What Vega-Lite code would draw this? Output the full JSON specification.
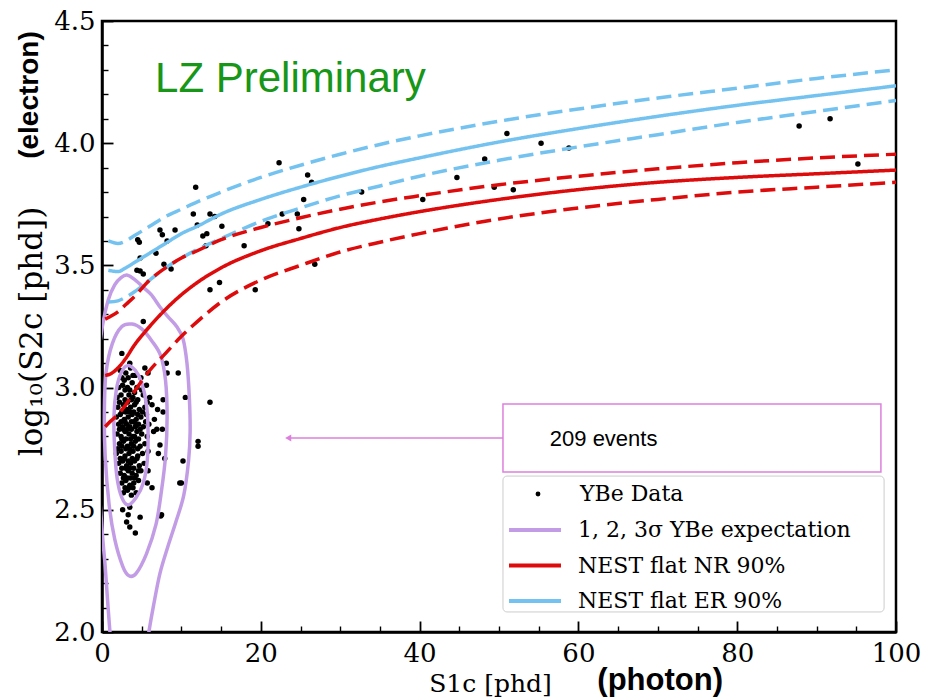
{
"$schema": "https://vega.github.io/schema/vega-lite/v6.json",
"width": 794, "height": 611,
"autosize": {"type": "none"},
"padding": {"left": 102, "top": 21, "right": 29, "bottom": 66},
"background": "white",
"config": {
  "view": {"stroke": "black", "strokeWidth": 2.5},
  "axis": {"grid": false, "labelFont": "DejaVu Serif", "labelFontSize": 26, "labelColor": "black", "titleFont": "DejaVu Serif", "titleFontSize": 25, "titleFontWeight": "normal", "titleColor": "black", "domainColor": "black", "domainWidth": 2.5, "tickColor": "black", "tickOpacity": 1}
},
"datasets": {
  "pts": [
    {"x":11.8,"y":3.82},{"x":11.5,"y":3.71},{"x":14.2,"y":3.70},{"x":13.6,"y":3.71},{"x":15.1,"y":3.66},{"x":13.2,"y":3.63},{"x":12.7,"y":3.62},{"x":13.1,"y":3.58},{"x":12.0,"y":3.665},{"x":7.3,"y":3.645},{"x":7.6,"y":3.625},{"x":8.2,"y":3.60},{"x":9.2,"y":3.645},{"x":4.5,"y":3.605},{"x":4.7,"y":3.595},{"x":4.8,"y":3.53},{"x":6.8,"y":3.55},{"x":4.4,"y":3.48},{"x":4.8,"y":3.477},{"x":5.2,"y":3.465},{"x":7.8,"y":3.505},{"x":8.7,"y":3.485},{"x":17.9,"y":3.58},{"x":13.6,"y":3.40},{"x":14.8,"y":3.43},{"x":19.3,"y":3.40},{"x":20.9,"y":3.67},{"x":22.3,"y":3.92},{"x":25.9,"y":3.87},{"x":26.4,"y":3.84},{"x":25.4,"y":3.77},{"x":22.7,"y":3.71},{"x":24.6,"y":3.71},{"x":24.8,"y":3.65},{"x":26.8,"y":3.505},{"x":32.7,"y":3.80},{"x":51.0,"y":4.04},{"x":55.3,"y":4.0},{"x":58.8,"y":3.98},{"x":48.2,"y":3.935},{"x":44.7,"y":3.86},{"x":40.4,"y":3.77},{"x":49.4,"y":3.82},{"x":51.8,"y":3.81},{"x":87.8,"y":4.07},{"x":91.7,"y":4.10},{"x":95.2,"y":3.915},
    {"x":2.5,"y":3.14},{"x":3.5,"y":3.10},{"x":5.4,"y":3.08},{"x":8.1,"y":3.10},{"x":9.6,"y":3.06},{"x":8.2,"y":3.06},{"x":10.5,"y":2.96},{"x":5.8,"y":3.06},{"x":7.7,"y":2.95},{"x":7.7,"y":2.90},{"x":7.0,"y":2.91},{"x":6.9,"y":2.83},{"x":7.6,"y":2.83},{"x":7.9,"y":2.71},{"x":7.1,"y":2.73},{"x":7.3,"y":2.765},{"x":5.8,"y":2.66},{"x":5.7,"y":2.61},{"x":6.3,"y":2.59},{"x":10.0,"y":2.61},{"x":10.2,"y":2.70},{"x":13.6,"y":2.94},{"x":12.1,"y":2.78},{"x":12.1,"y":2.76},{"x":5.2,"y":3.27},{"x":9.8,"y":2.61},{"x":7.5,"y":2.48},
    {"x":2.6,"y":2.50},{"x":3.5,"y":2.51},{"x":3.3,"y":2.48},{"x":3.1,"y":2.45},{"x":4.2,"y":2.405},{"x":3.5,"y":2.43},{"x":4.8,"y":2.47},{"x":7.4,"y":2.475},
    {"x":2.3,"y":3.07},{"x":3.0,"y":3.06},{"x":3.6,"y":3.08},{"x":4.2,"y":3.05},{"x":4.9,"y":3.04},{"x":2.8,"y":3.03},
    {"x":2.1,"y":3.0},{"x":2.6,"y":3.01},{"x":3.2,"y":3.0},{"x":3.8,"y":3.02},{"x":4.4,"y":3.0},{"x":5.0,"y":2.99},{"x":5.6,"y":3.01},
    {"x":1.9,"y":2.96},{"x":2.4,"y":2.97},{"x":2.9,"y":2.95},{"x":3.4,"y":2.97},{"x":3.9,"y":2.96},{"x":4.5,"y":2.95},{"x":5.2,"y":2.97},{"x":6.0,"y":2.96},
    {"x":2.0,"y":2.92},{"x":2.7,"y":2.93},{"x":3.1,"y":2.91},{"x":3.6,"y":2.92},{"x":4.1,"y":2.93},{"x":4.7,"y":2.91},{"x":5.4,"y":2.92},{"x":6.3,"y":2.93},
    {"x":1.8,"y":2.88},{"x":2.3,"y":2.89},{"x":2.8,"y":2.87},{"x":3.3,"y":2.88},{"x":3.8,"y":2.89},{"x":4.3,"y":2.87},{"x":4.9,"y":2.88},{"x":5.6,"y":2.89},{"x":6.6,"y":2.87},
    {"x":2.1,"y":2.85},{"x":2.6,"y":2.84},{"x":3.1,"y":2.85},{"x":3.5,"y":2.84},{"x":4.0,"y":2.86},{"x":4.6,"y":2.85},{"x":5.2,"y":2.84},{"x":5.9,"y":2.85},
    {"x":1.9,"y":2.81},{"x":2.4,"y":2.80},{"x":2.9,"y":2.82},{"x":3.4,"y":2.81},{"x":3.9,"y":2.80},{"x":4.4,"y":2.82},{"x":5.0,"y":2.81},{"x":5.7,"y":2.80},{"x":6.5,"y":2.82},
    {"x":2.2,"y":2.77},{"x":2.7,"y":2.78},{"x":3.2,"y":2.76},{"x":3.7,"y":2.77},{"x":4.2,"y":2.78},{"x":4.8,"y":2.76},{"x":5.4,"y":2.77},
    {"x":1.8,"y":2.73},{"x":2.4,"y":2.74},{"x":2.9,"y":2.72},{"x":3.4,"y":2.73},{"x":3.9,"y":2.74},{"x":4.5,"y":2.72},{"x":5.1,"y":2.73},{"x":5.8,"y":2.74},
    {"x":2.1,"y":2.69},{"x":2.6,"y":2.70},{"x":3.1,"y":2.68},{"x":3.6,"y":2.69},{"x":4.1,"y":2.70},{"x":4.7,"y":2.68},{"x":5.3,"y":2.69},
    {"x":2.3,"y":2.65},{"x":2.8,"y":2.64},{"x":3.3,"y":2.66},{"x":3.8,"y":2.65},{"x":4.3,"y":2.64},{"x":4.9,"y":2.66},
    {"x":2.5,"y":2.61},{"x":3.0,"y":2.62},{"x":3.5,"y":2.60},{"x":4.0,"y":2.61},{"x":4.6,"y":2.62},
    {"x":2.7,"y":2.57},{"x":3.2,"y":2.58},{"x":3.7,"y":2.56},{"x":4.3,"y":2.57},
    {"x":2.5,"y":3.04},{"x":3.3,"y":3.04},{"x":3.9,"y":3.05},
    {"x":2.9,"y":2.99},{"x":3.5,"y":2.99},{"x":4.1,"y":2.98},
    {"x":2.2,"y":2.94},{"x":3.2,"y":2.94},{"x":3.7,"y":2.95},{"x":4.3,"y":2.94},{"x":5.7,"y":2.94},
    {"x":2.5,"y":2.90},{"x":3.0,"y":2.90},{"x":3.5,"y":2.90},{"x":4.0,"y":2.90},{"x":4.5,"y":2.89},{"x":5.1,"y":2.90},
    {"x":2.4,"y":2.86},{"x":2.9,"y":2.86},{"x":3.7,"y":2.86},{"x":4.3,"y":2.85},{"x":5.5,"y":2.86},
    {"x":2.2,"y":2.83},{"x":2.7,"y":2.83},{"x":3.2,"y":2.83},{"x":3.7,"y":2.83},{"x":4.2,"y":2.84},{"x":4.8,"y":2.83},
    {"x":2.5,"y":2.79},{"x":3.0,"y":2.79},{"x":3.6,"y":2.79},{"x":4.1,"y":2.80},{"x":4.6,"y":2.79},
    {"x":2.0,"y":2.75},{"x":2.5,"y":2.76},{"x":3.0,"y":2.75},{"x":3.5,"y":2.75},{"x":4.0,"y":2.76},{"x":4.5,"y":2.75},
    {"x":2.3,"y":2.71},{"x":2.8,"y":2.71},{"x":3.3,"y":2.70},{"x":3.8,"y":2.71},{"x":4.4,"y":2.71},
    {"x":2.5,"y":2.67},{"x":3.0,"y":2.67},{"x":3.5,"y":2.67},{"x":4.0,"y":2.67},{"x":4.6,"y":2.66},
    {"x":2.7,"y":2.63},{"x":3.2,"y":2.63},{"x":3.6,"y":2.63},{"x":4.1,"y":2.63},
    {"x":2.9,"y":2.59},{"x":3.4,"y":2.59},{"x":3.9,"y":2.59}
  ],
  "nest": [
    {"s":"NEST flat ER 90%","id":"er_med","b":"median","x":0.8,"y":3.48},{"s":"NEST flat ER 90%","id":"er_med","b":"median","x":2,"y":3.475},{"s":"NEST flat ER 90%","id":"er_med","b":"median","x":3,"y":3.49},{"s":"NEST flat ER 90%","id":"er_med","b":"median","x":4,"y":3.51},{"s":"NEST flat ER 90%","id":"er_med","b":"median","x":6,"y":3.55},{"s":"NEST flat ER 90%","id":"er_med","b":"median","x":8,"y":3.59},{"s":"NEST flat ER 90%","id":"er_med","b":"median","x":10,"y":3.63},{"s":"NEST flat ER 90%","id":"er_med","b":"median","x":12,"y":3.66},{"s":"NEST flat ER 90%","id":"er_med","b":"median","x":15,"y":3.71},{"s":"NEST flat ER 90%","id":"er_med","b":"median","x":20,"y":3.77},{"s":"NEST flat ER 90%","id":"er_med","b":"median","x":25,"y":3.82},{"s":"NEST flat ER 90%","id":"er_med","b":"median","x":30,"y":3.865},{"s":"NEST flat ER 90%","id":"er_med","b":"median","x":35,"y":3.905},{"s":"NEST flat ER 90%","id":"er_med","b":"median","x":40,"y":3.94},{"s":"NEST flat ER 90%","id":"er_med","b":"median","x":50,"y":4.005},{"s":"NEST flat ER 90%","id":"er_med","b":"median","x":60,"y":4.06},{"s":"NEST flat ER 90%","id":"er_med","b":"median","x":70,"y":4.11},{"s":"NEST flat ER 90%","id":"er_med","b":"median","x":80,"y":4.155},{"s":"NEST flat ER 90%","id":"er_med","b":"median","x":90,"y":4.195},{"s":"NEST flat ER 90%","id":"er_med","b":"median","x":100,"y":4.235},
    {"s":"NEST flat ER 90%","id":"er_hi","b":"band","x":0.8,"y":3.60},{"s":"NEST flat ER 90%","id":"er_hi","b":"band","x":2,"y":3.59},{"s":"NEST flat ER 90%","id":"er_hi","b":"band","x":3,"y":3.60},{"s":"NEST flat ER 90%","id":"er_hi","b":"band","x":4,"y":3.62},{"s":"NEST flat ER 90%","id":"er_hi","b":"band","x":6,"y":3.66},{"s":"NEST flat ER 90%","id":"er_hi","b":"band","x":8,"y":3.70},{"s":"NEST flat ER 90%","id":"er_hi","b":"band","x":10,"y":3.73},{"s":"NEST flat ER 90%","id":"er_hi","b":"band","x":12,"y":3.76},{"s":"NEST flat ER 90%","id":"er_hi","b":"band","x":15,"y":3.80},{"s":"NEST flat ER 90%","id":"er_hi","b":"band","x":20,"y":3.86},{"s":"NEST flat ER 90%","id":"er_hi","b":"band","x":25,"y":3.91},{"s":"NEST flat ER 90%","id":"er_hi","b":"band","x":30,"y":3.955},{"s":"NEST flat ER 90%","id":"er_hi","b":"band","x":35,"y":3.995},{"s":"NEST flat ER 90%","id":"er_hi","b":"band","x":40,"y":4.03},{"s":"NEST flat ER 90%","id":"er_hi","b":"band","x":50,"y":4.09},{"s":"NEST flat ER 90%","id":"er_hi","b":"band","x":60,"y":4.14},{"s":"NEST flat ER 90%","id":"er_hi","b":"band","x":70,"y":4.185},{"s":"NEST flat ER 90%","id":"er_hi","b":"band","x":80,"y":4.225},{"s":"NEST flat ER 90%","id":"er_hi","b":"band","x":90,"y":4.265},{"s":"NEST flat ER 90%","id":"er_hi","b":"band","x":100,"y":4.30},
    {"s":"NEST flat ER 90%","id":"er_lo","b":"band","x":0.8,"y":3.35},{"s":"NEST flat ER 90%","id":"er_lo","b":"band","x":2,"y":3.355},{"s":"NEST flat ER 90%","id":"er_lo","b":"band","x":3,"y":3.37},{"s":"NEST flat ER 90%","id":"er_lo","b":"band","x":4,"y":3.39},{"s":"NEST flat ER 90%","id":"er_lo","b":"band","x":6,"y":3.44},{"s":"NEST flat ER 90%","id":"er_lo","b":"band","x":8,"y":3.49},{"s":"NEST flat ER 90%","id":"er_lo","b":"band","x":10,"y":3.53},{"s":"NEST flat ER 90%","id":"er_lo","b":"band","x":12,"y":3.565},{"s":"NEST flat ER 90%","id":"er_lo","b":"band","x":15,"y":3.61},{"s":"NEST flat ER 90%","id":"er_lo","b":"band","x":20,"y":3.68},{"s":"NEST flat ER 90%","id":"er_lo","b":"band","x":25,"y":3.735},{"s":"NEST flat ER 90%","id":"er_lo","b":"band","x":30,"y":3.785},{"s":"NEST flat ER 90%","id":"er_lo","b":"band","x":35,"y":3.825},{"s":"NEST flat ER 90%","id":"er_lo","b":"band","x":40,"y":3.865},{"s":"NEST flat ER 90%","id":"er_lo","b":"band","x":50,"y":3.93},{"s":"NEST flat ER 90%","id":"er_lo","b":"band","x":60,"y":3.985},{"s":"NEST flat ER 90%","id":"er_lo","b":"band","x":70,"y":4.035},{"s":"NEST flat ER 90%","id":"er_lo","b":"band","x":80,"y":4.085},{"s":"NEST flat ER 90%","id":"er_lo","b":"band","x":90,"y":4.13},{"s":"NEST flat ER 90%","id":"er_lo","b":"band","x":100,"y":4.175},
    {"s":"NEST flat NR 90%","id":"nr_med","b":"median","x":0.4,"y":3.05},{"s":"NEST flat NR 90%","id":"nr_med","b":"median","x":1,"y":3.055},{"s":"NEST flat NR 90%","id":"nr_med","b":"median","x":2,"y":3.08},{"s":"NEST flat NR 90%","id":"nr_med","b":"median","x":3,"y":3.12},{"s":"NEST flat NR 90%","id":"nr_med","b":"median","x":4,"y":3.17},{"s":"NEST flat NR 90%","id":"nr_med","b":"median","x":6,"y":3.25},{"s":"NEST flat NR 90%","id":"nr_med","b":"median","x":8,"y":3.32},{"s":"NEST flat NR 90%","id":"nr_med","b":"median","x":10,"y":3.38},{"s":"NEST flat NR 90%","id":"nr_med","b":"median","x":12,"y":3.43},{"s":"NEST flat NR 90%","id":"nr_med","b":"median","x":15,"y":3.49},{"s":"NEST flat NR 90%","id":"nr_med","b":"median","x":20,"y":3.56},{"s":"NEST flat NR 90%","id":"nr_med","b":"median","x":25,"y":3.61},{"s":"NEST flat NR 90%","id":"nr_med","b":"median","x":30,"y":3.655},{"s":"NEST flat NR 90%","id":"nr_med","b":"median","x":35,"y":3.69},{"s":"NEST flat NR 90%","id":"nr_med","b":"median","x":40,"y":3.72},{"s":"NEST flat NR 90%","id":"nr_med","b":"median","x":50,"y":3.77},{"s":"NEST flat NR 90%","id":"nr_med","b":"median","x":60,"y":3.81},{"s":"NEST flat NR 90%","id":"nr_med","b":"median","x":70,"y":3.84},{"s":"NEST flat NR 90%","id":"nr_med","b":"median","x":80,"y":3.86},{"s":"NEST flat NR 90%","id":"nr_med","b":"median","x":90,"y":3.875},{"s":"NEST flat NR 90%","id":"nr_med","b":"median","x":100,"y":3.89},
    {"s":"NEST flat NR 90%","id":"nr_hi","b":"band","x":0.4,"y":3.28},{"s":"NEST flat NR 90%","id":"nr_hi","b":"band","x":1,"y":3.29},{"s":"NEST flat NR 90%","id":"nr_hi","b":"band","x":2,"y":3.31},{"s":"NEST flat NR 90%","id":"nr_hi","b":"band","x":3,"y":3.34},{"s":"NEST flat NR 90%","id":"nr_hi","b":"band","x":4,"y":3.37},{"s":"NEST flat NR 90%","id":"nr_hi","b":"band","x":6,"y":3.44},{"s":"NEST flat NR 90%","id":"nr_hi","b":"band","x":8,"y":3.49},{"s":"NEST flat NR 90%","id":"nr_hi","b":"band","x":10,"y":3.53},{"s":"NEST flat NR 90%","id":"nr_hi","b":"band","x":12,"y":3.56},{"s":"NEST flat NR 90%","id":"nr_hi","b":"band","x":15,"y":3.605},{"s":"NEST flat NR 90%","id":"nr_hi","b":"band","x":20,"y":3.655},{"s":"NEST flat NR 90%","id":"nr_hi","b":"band","x":25,"y":3.695},{"s":"NEST flat NR 90%","id":"nr_hi","b":"band","x":30,"y":3.73},{"s":"NEST flat NR 90%","id":"nr_hi","b":"band","x":35,"y":3.76},{"s":"NEST flat NR 90%","id":"nr_hi","b":"band","x":40,"y":3.785},{"s":"NEST flat NR 90%","id":"nr_hi","b":"band","x":50,"y":3.83},{"s":"NEST flat NR 90%","id":"nr_hi","b":"band","x":60,"y":3.865},{"s":"NEST flat NR 90%","id":"nr_hi","b":"band","x":70,"y":3.895},{"s":"NEST flat NR 90%","id":"nr_hi","b":"band","x":80,"y":3.92},{"s":"NEST flat NR 90%","id":"nr_hi","b":"band","x":90,"y":3.94},{"s":"NEST flat NR 90%","id":"nr_hi","b":"band","x":100,"y":3.955},
    {"s":"NEST flat NR 90%","id":"nr_lo","b":"band","x":0.4,"y":2.84},{"s":"NEST flat NR 90%","id":"nr_lo","b":"band","x":1,"y":2.86},{"s":"NEST flat NR 90%","id":"nr_lo","b":"band","x":2,"y":2.89},{"s":"NEST flat NR 90%","id":"nr_lo","b":"band","x":3,"y":2.93},{"s":"NEST flat NR 90%","id":"nr_lo","b":"band","x":4,"y":2.98},{"s":"NEST flat NR 90%","id":"nr_lo","b":"band","x":6,"y":3.07},{"s":"NEST flat NR 90%","id":"nr_lo","b":"band","x":8,"y":3.14},{"s":"NEST flat NR 90%","id":"nr_lo","b":"band","x":10,"y":3.21},{"s":"NEST flat NR 90%","id":"nr_lo","b":"band","x":12,"y":3.27},{"s":"NEST flat NR 90%","id":"nr_lo","b":"band","x":15,"y":3.35},{"s":"NEST flat NR 90%","id":"nr_lo","b":"band","x":20,"y":3.44},{"s":"NEST flat NR 90%","id":"nr_lo","b":"band","x":25,"y":3.50},{"s":"NEST flat NR 90%","id":"nr_lo","b":"band","x":30,"y":3.555},{"s":"NEST flat NR 90%","id":"nr_lo","b":"band","x":35,"y":3.595},{"s":"NEST flat NR 90%","id":"nr_lo","b":"band","x":40,"y":3.63},{"s":"NEST flat NR 90%","id":"nr_lo","b":"band","x":50,"y":3.69},{"s":"NEST flat NR 90%","id":"nr_lo","b":"band","x":60,"y":3.735},{"s":"NEST flat NR 90%","id":"nr_lo","b":"band","x":70,"y":3.77},{"s":"NEST flat NR 90%","id":"nr_lo","b":"band","x":80,"y":3.80},{"s":"NEST flat NR 90%","id":"nr_lo","b":"band","x":90,"y":3.82},{"s":"NEST flat NR 90%","id":"nr_lo","b":"band","x":100,"y":3.84}
  ],
  "closed": [
    {"id":"c1","i":0,"x":3.2,"y":3.09},{"id":"c1","i":1,"x":4.2,"y":3.07},{"id":"c1","i":2,"x":5.0,"y":3.02},{"id":"c1","i":3,"x":5.6,"y":2.93},{"id":"c1","i":4,"x":5.8,"y":2.82},{"id":"c1","i":5,"x":5.7,"y":2.70},{"id":"c1","i":6,"x":5.2,"y":2.61},{"id":"c1","i":7,"x":4.3,"y":2.55},{"id":"c1","i":8,"x":3.3,"y":2.52},{"id":"c1","i":9,"x":2.5,"y":2.55},{"id":"c1","i":10,"x":1.9,"y":2.63},{"id":"c1","i":11,"x":1.6,"y":2.75},{"id":"c1","i":12,"x":1.5,"y":2.88},{"id":"c1","i":13,"x":1.8,"y":2.99},{"id":"c1","i":14,"x":2.4,"y":3.06},
    {"id":"c2","i":0,"x":3.8,"y":3.26},{"id":"c2","i":1,"x":5.0,"y":3.24},{"id":"c2","i":2,"x":6.3,"y":3.19},{"id":"c2","i":3,"x":7.4,"y":3.13},{"id":"c2","i":4,"x":8.0,"y":3.03},{"id":"c2","i":5,"x":8.2,"y":2.88},{"id":"c2","i":6,"x":8.0,"y":2.72},{"id":"c2","i":7,"x":7.5,"y":2.58},{"id":"c2","i":8,"x":6.8,"y":2.44},{"id":"c2","i":9,"x":5.6,"y":2.32},{"id":"c2","i":10,"x":4.3,"y":2.24},{"id":"c2","i":11,"x":3.4,"y":2.23},{"id":"c2","i":12,"x":2.6,"y":2.27},{"id":"c2","i":13,"x":1.6,"y":2.38},{"id":"c2","i":14,"x":0.9,"y":2.52},{"id":"c2","i":15,"x":0.4,"y":2.72},{"id":"c2","i":16,"x":0.3,"y":2.90},{"id":"c2","i":17,"x":0.5,"y":3.06},{"id":"c2","i":18,"x":1.3,"y":3.18},{"id":"c2","i":19,"x":2.5,"y":3.25}
  ],
  "open": [
    {"id":"c3a","i":0,"x":-0.6,"y":3.1},{"id":"c3a","i":1,"x":0.1,"y":3.26},{"id":"c3a","i":2,"x":0.8,"y":3.36},{"id":"c3a","i":3,"x":1.6,"y":3.42},{"id":"c3a","i":4,"x":2.4,"y":3.45},{"id":"c3a","i":5,"x":3.2,"y":3.46},{"id":"c3a","i":6,"x":4.2,"y":3.44},{"id":"c3a","i":7,"x":5.2,"y":3.41},{"id":"c3a","i":8,"x":6.2,"y":3.38},{"id":"c3a","i":9,"x":7.3,"y":3.33},{"id":"c3a","i":10,"x":8.3,"y":3.29},{"id":"c3a","i":11,"x":9.4,"y":3.25},{"id":"c3a","i":12,"x":10.2,"y":3.2},{"id":"c3a","i":13,"x":10.7,"y":3.1},{"id":"c3a","i":14,"x":11.0,"y":2.96},{"id":"c3a","i":15,"x":11.1,"y":2.82},{"id":"c3a","i":16,"x":10.9,"y":2.7},{"id":"c3a","i":17,"x":10.3,"y":2.56},{"id":"c3a","i":18,"x":9.3,"y":2.45},{"id":"c3a","i":19,"x":8.3,"y":2.35},{"id":"c3a","i":20,"x":7.3,"y":2.24},{"id":"c3a","i":21,"x":6.5,"y":2.11},{"id":"c3a","i":22,"x":5.9,"y":2.0},{"id":"c3a","i":23,"x":5.6,"y":1.93},
    {"id":"c3b","i":0,"x":-0.4,"y":2.6},{"id":"c3b","i":1,"x":0.1,"y":2.38},{"id":"c3b","i":2,"x":0.4,"y":2.27},{"id":"c3b","i":3,"x":0.7,"y":2.13},{"id":"c3b","i":4,"x":1.0,"y":2.0},{"id":"c3b","i":5,"x":1.15,"y":1.93}
  ]
},
"resolve": {"axis": {"x": "independent", "y": "independent"}},
"layer": [
  {
    "data": {"name": "pts"},
    "mark": {"type": "point", "filled": true, "color": "black", "opacity": 1, "size": 30},
    "encoding": {
      "x": {"field": "x", "type": "quantitative", "scale": {"domain": [0, 100], "nice": false, "zero": false},
        "axis": {"orient": "bottom", "values": [0, 20, 40, 60, 80, 100], "ticks": true, "tickSize": -11, "tickWidth": 1.8, "tickColor": "black", "labelPadding": 19, "labelFlush": false, "title": "S1c [phd]", "titleX": 388, "titleY": 51, "titleAlign": "center", "titleBaseline": "middle", "titleAngle": 0}},
      "y": {"field": "y", "type": "quantitative", "scale": {"domain": [2, 4.5], "nice": false, "zero": false},
        "axis": {"orient": "left", "values": [2, 2.5, 3, 3.5, 4, 4.5], "format": ".1f", "ticks": true, "tickSize": -11, "tickWidth": 1.8, "tickColor": "black", "labelPadding": 18, "labelFlush": false, "title": "log₁₀(S2c [phd])", "titleFontSize": 31, "titleX": -70, "titleY": 310, "titleAngle": 270, "titleAlign": "center", "titleBaseline": "middle"}},
      "shape": {"datum": "YBe Data", "type": "nominal", "scale": {"range": ["circle"]},
        "legend": {"orient": "none", "legendX": 425, "legendY": 462, "title": null, "padding": 0, "symbolSize": 24, "symbolFillColor": "black", "symbolStrokeWidth": 0, "labelOffset": 31, "labelLimit": 500, "labelFont": "DejaVu Serif", "labelFontSize": 22, "labelColor": "black"}}
    }
  },
  {
    "data": {"name": "closed"},
    "mark": {"type": "line", "interpolate": "cardinal-closed", "strokeWidth": 3.5, "clip": true},
    "encoding": {
      "x": {"field": "x", "type": "quantitative", "scale": {"domain": [0, 100], "nice": false, "zero": false}, "axis": null},
      "y": {"field": "y", "type": "quantitative", "scale": {"domain": [2, 4.5], "nice": false, "zero": false}, "axis": null},
      "detail": {"field": "id"},
      "order": {"field": "i", "type": "quantitative"},
      "color": {"datum": "1, 2, 3σ YBe expectation", "type": "nominal",
        "scale": {"domain": ["1, 2, 3σ YBe expectation", "NEST flat NR 90%", "NEST flat ER 90%"], "range": ["#c29de6", "#dd0b0b", "#74c2ef"]},
        "legend": {"orient": "none", "legendX": 422, "legendY": 498, "title": null, "padding": 0, "symbolType": "M-5,0H5", "symbolSize": 108, "symbolStrokeWidth": 4, "labelOffset": 32, "rowPadding": 13.5, "labelLimit": 500, "labelFont": "DejaVu Serif", "labelFontSize": 22, "labelColor": "black"}}
    }
  },
  {
    "data": {"name": "open"},
    "mark": {"type": "line", "interpolate": "cardinal", "strokeWidth": 3.5, "clip": true},
    "encoding": {
      "x": {"field": "x", "type": "quantitative", "scale": {"domain": [0, 100], "nice": false, "zero": false}, "axis": null},
      "y": {"field": "y", "type": "quantitative", "scale": {"domain": [2, 4.5], "nice": false, "zero": false}, "axis": null},
      "detail": {"field": "id"},
      "order": {"field": "i", "type": "quantitative"},
      "color": {"datum": "1, 2, 3σ YBe expectation", "type": "nominal",
        "scale": {"domain": ["1, 2, 3σ YBe expectation", "NEST flat NR 90%", "NEST flat ER 90%"], "range": ["#c29de6", "#dd0b0b", "#74c2ef"]},
        "legend": {"orient": "none", "legendX": 422, "legendY": 498, "title": null, "padding": 0, "symbolType": "M-5,0H5", "symbolSize": 108, "symbolStrokeWidth": 4, "labelOffset": 32, "rowPadding": 13.5, "labelLimit": 500, "labelFont": "DejaVu Serif", "labelFontSize": 22, "labelColor": "black"}}
    }
  },
  {
    "data": {"name": "nest"},
    "mark": {"type": "line", "interpolate": "monotone", "strokeWidth": 3.5, "clip": true, "strokeCap": "butt"},
    "encoding": {
      "x": {"field": "x", "type": "quantitative", "scale": {"domain": [0, 100], "nice": false, "zero": false},
        "axis": {"orient": "bottom", "values": [5, 10, 15, 25, 30, 35, 45, 50, 55, 65, 70, 75, 85, 90, 95], "ticks": true, "tickSize": -6, "tickWidth": 1.4, "tickColor": "black", "labels": false, "domain": false, "title": null}},
      "y": {"field": "y", "type": "quantitative", "scale": {"domain": [2, 4.5], "nice": false, "zero": false},
        "axis": {"orient": "left", "values": [2.1, 2.2, 2.3, 2.4, 2.6, 2.7, 2.8, 2.9, 3.1, 3.2, 3.3, 3.4, 3.6, 3.7, 3.8, 3.9, 4.1, 4.2, 4.3, 4.4], "ticks": true, "tickSize": -6, "tickWidth": 1.4, "tickColor": "black", "labels": false, "domain": false, "title": null}},
      "detail": {"field": "id"},
      "color": {"field": "s", "type": "nominal",
        "scale": {"domain": ["1, 2, 3σ YBe expectation", "NEST flat NR 90%", "NEST flat ER 90%"], "range": ["#c29de6", "#dd0b0b", "#74c2ef"]},
        "legend": {"orient": "none", "legendX": 422, "legendY": 498, "title": null, "padding": 0, "symbolType": "M-5,0H5", "symbolSize": 108, "symbolStrokeWidth": 4, "labelOffset": 32, "rowPadding": 13.5, "labelLimit": 500, "labelFont": "DejaVu Serif", "labelFontSize": 22, "labelColor": "black"}},
      "strokeDash": {"field": "b", "type": "nominal", "scale": {"domain": ["median", "band"], "range": [[1, 0], [15, 7]]}, "legend": null}
    }
  },
  {
    "data": {"values": [{}]},
    "mark": {"type": "rect", "fill": "white", "fillOpacity": 0.85, "stroke": "#cccccc", "strokeWidth": 1, "cornerRadius": 4},
    "encoding": {
      "x": {"datum": 50.5, "type": "quantitative", "scale": {"domain": [0, 100], "nice": false, "zero": false}, "axis": null},
      "x2": {"datum": 98.5},
      "y": {"datum": 2.638, "type": "quantitative", "scale": {"domain": [2, 4.5], "nice": false, "zero": false}, "axis": null},
      "y2": {"datum": 2.082}
    }
  },
  {
    "data": {"values": [{}]},
    "mark": {"type": "rect", "fill": null, "fillOpacity": 0, "stroke": "#dd80dd", "strokeWidth": 1.5},
    "encoding": {
      "x": {"datum": 50.5, "type": "quantitative", "scale": {"domain": [0, 100], "nice": false, "zero": false}, "axis": null},
      "x2": {"datum": 98.1},
      "y": {"datum": 2.933, "type": "quantitative", "scale": {"domain": [2, 4.5], "nice": false, "zero": false}, "axis": null},
      "y2": {"datum": 2.655}
    }
  },
  {
    "data": {"values": [{}]},
    "mark": {"type": "rule", "stroke": "#dd80dd", "strokeWidth": 1.5},
    "encoding": {
      "x": {"datum": 50.5, "type": "quantitative", "scale": {"domain": [0, 100], "nice": false, "zero": false}, "axis": null},
      "x2": {"datum": 23.6},
      "y": {"datum": 2.794, "type": "quantitative", "scale": {"domain": [2, 4.5], "nice": false, "zero": false}, "axis": null}
    }
  },
  {
    "data": {"values": [{}]},
    "mark": {"type": "point", "shape": "triangle-left", "filled": true, "color": "#dd80dd", "opacity": 1, "size": 50},
    "encoding": {
      "x": {"datum": 23.45, "type": "quantitative", "scale": {"domain": [0, 100], "nice": false, "zero": false}, "axis": null},
      "y": {"datum": 2.794, "type": "quantitative", "scale": {"domain": [2, 4.5], "nice": false, "zero": false}, "axis": null}
    }
  },
  {
    "data": {"values": [{}]},
    "mark": {"type": "text", "text": "209 events", "font": "Liberation Sans", "fontSize": 22, "color": "black", "align": "left", "baseline": "alphabetic"},
    "encoding": {
      "x": {"datum": 56.4, "type": "quantitative", "scale": {"domain": [0, 100], "nice": false, "zero": false}, "axis": null},
      "y": {"datum": 2.761, "type": "quantitative", "scale": {"domain": [2, 4.5], "nice": false, "zero": false}, "axis": null}
    }
  },
  {
    "data": {"values": [{}]},
    "mark": {"type": "text", "text": "LZ Preliminary", "font": "Liberation Sans", "fontSize": 42, "color": "#179617", "align": "left", "baseline": "alphabetic"},
    "encoding": {
      "x": {"datum": 6.68, "type": "quantitative", "scale": {"domain": [0, 100], "nice": false, "zero": false}, "axis": null},
      "y": {"datum": 4.21, "type": "quantitative", "scale": {"domain": [2, 4.5], "nice": false, "zero": false}, "axis": null}
    }
  },
  {
    "data": {"values": [{}]},
    "mark": {"type": "text", "text": "(photon)", "font": "Liberation Sans", "fontSize": 31, "fontWeight": "bold", "color": "black", "align": "center", "baseline": "middle"},
    "encoding": {
      "x": {"datum": 70.3, "type": "quantitative", "scale": {"domain": [0, 100], "nice": false, "zero": false}, "axis": null},
      "y": {"datum": 1.80, "type": "quantitative", "scale": {"domain": [2, 4.5], "nice": false, "zero": false}, "axis": null}
    }
  },
  {
    "data": {"values": [{}]},
    "mark": {"type": "text", "text": "(electron)", "font": "Liberation Sans", "fontSize": 28, "fontWeight": "bold", "color": "black", "align": "center", "baseline": "middle", "angle": 270},
    "encoding": {
      "x": {"datum": -9.07, "type": "quantitative", "scale": {"domain": [0, 100], "nice": false, "zero": false}, "axis": null},
      "y": {"datum": 4.197, "type": "quantitative", "scale": {"domain": [2, 4.5], "nice": false, "zero": false}, "axis": null}
    }
  }
]
}
